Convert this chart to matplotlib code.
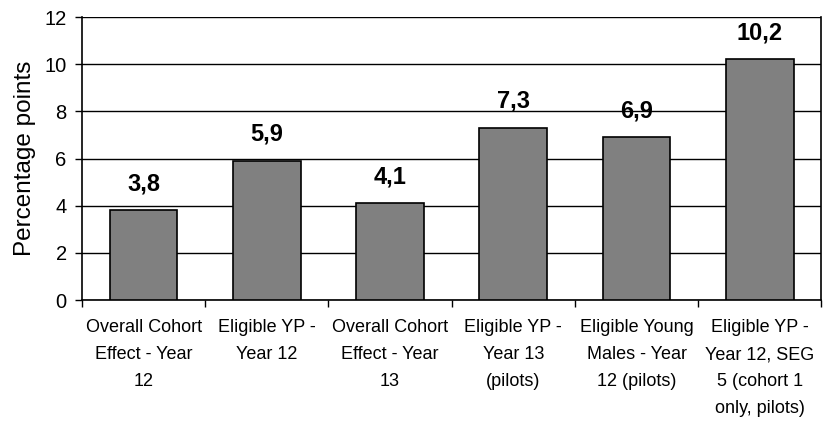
"""Bar chart of percentage-point effects by group"""

import matplotlib.pyplot as plt
import numpy as np

categories = [
    "Overall Cohort\nEffect - Year\n12",
    "Eligible YP -\nYear 12",
    "Overall Cohort\nEffect - Year\n13",
    "Eligible YP -\nYear 13\n(pilots)",
    "Eligible Young\nMales - Year\n12 (pilots)",
    "Eligible YP -\nYear 12, SEG\n5 (cohort 1\nonly, pilots)",
]
effects = [3.8, 5.9, 4.1, 7.3, 6.9, 10.2]
y_ticks = [0, 2, 4, 6, 8, 10, 12]

plt.rcParams["font.family"] = ["Liberation Sans", "DejaVu Sans"]

fig = plt.figure(figsize=(8.23, 4.21), dpi=100)
ax = fig.add_axes([0.0996, 0.2874, 0.8985, 0.6722])

x = np.arange(len(effects))
bars = ax.bar(x, effects, width=0.55, color="#808080", edgecolor="black",
              linewidth=1.2, zorder=3)

for xi, v in zip(x, effects):
    ax.annotate(f"{v:.1f}".replace(".", ","), (xi, v), xytext=(0, 11),
                textcoords="offset points", ha="center", va="bottom",
                fontsize=17, fontweight="bold")

ax.set_xlim(-0.5, len(effects) - 0.5)
ax.set_ylim(0, 12)
ax.set_yticks(y_ticks)
ax.tick_params(axis="y", labelsize=14.5, length=5, width=1, pad=6)
ax.yaxis.grid(True, color="black", linewidth=1, zorder=0)

# category ticks sit on the boundaries between bars
ax.set_xticks(np.arange(len(effects) + 1) - 0.5)
ax.set_xticklabels([])
ax.set_xticks(x, minor=True)
ax.set_xticklabels(categories, minor=True, fontsize=13, linespacing=1.75)
ax.tick_params(axis="x", which="major", length=5, width=1)
ax.tick_params(axis="x", which="minor", length=0, pad=14)

ax.set_ylabel("Percentage points", fontsize=17.5, labelpad=6)

ax.spines["top"].set_visible(False)
for side in ["left", "right", "bottom"]:
    ax.spines[side].set_linewidth(1.2)

fig.savefig("out.png", dpi=100)
